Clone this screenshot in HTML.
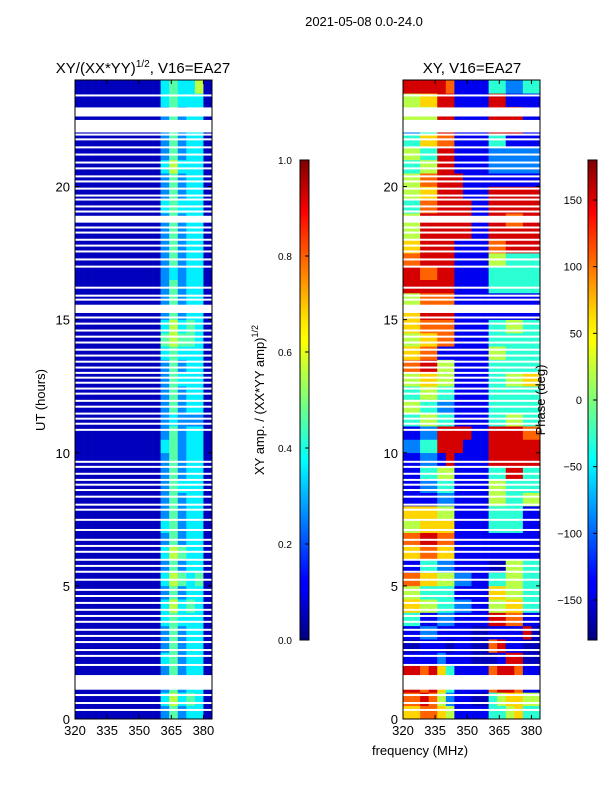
<!DOCTYPE html>
<html><head><meta charset="utf-8"><style>
body{margin:0;background:#fff;}
svg{display:block;font-family:"Liberation Sans",sans-serif;}
</style></head><body>
<svg id="fig" width="600" height="800" viewBox="0 0 600 800" xmlns="http://www.w3.org/2000/svg">
<defs>
<linearGradient id="jet" x1="0" y1="1" x2="0" y2="0">
<stop offset="0" stop-color="#00007f"/><stop offset="0.11" stop-color="#0000ff"/>
<stop offset="0.125" stop-color="#0000ff"/><stop offset="0.34" stop-color="#00dcff"/>
<stop offset="0.375" stop-color="#00ffff"/><stop offset="0.5" stop-color="#7dff7a"/>
<stop offset="0.625" stop-color="#ffff00"/><stop offset="0.66" stop-color="#ffea00"/>
<stop offset="0.875" stop-color="#ff1300"/><stop offset="0.89" stop-color="#ff0000"/>
<stop offset="1" stop-color="#7f0000"/></linearGradient>
</defs>
<text x="364" y="26" font-size="13" text-anchor="middle">2021-05-08 0.0-24.0</text>
<text x="143" y="73" font-size="15" text-anchor="middle">XY/(XX*YY)<tspan font-size="10" dy="-6">1/2</tspan><tspan dy="6">, V16=EA27</tspan></text>
<text x="472" y="73" font-size="15" text-anchor="middle">XY, V16=EA27</text>
<g id="left"></g>
<g id="right"></g>
<g id="axes"></g>
<text transform="translate(45,400) rotate(-90)" font-size="13" text-anchor="middle">UT (hours)</text>
<text x="420" y="755" font-size="13" text-anchor="middle">frequency (MHz)</text>
<rect x="300" y="160" width="9" height="480" fill="url(#jet)" stroke="#000" stroke-width="1"/>
<text transform="translate(264,400) rotate(-90)" font-size="13" text-anchor="middle">XY amp. / (XX*YY amp)<tspan font-size="9" dy="-6">1/2</tspan></text>
<rect x="588" y="160" width="9" height="480" fill="url(#jet)" stroke="#000" stroke-width="1"/>
<text transform="translate(545,400) rotate(-90)" font-size="13" text-anchor="middle">Phase (deg)</text>
<g id="cbt"></g>
</svg>
<script>
const freqStart = [320,324,328,332,336,340,344,348,352,356,360,364,368,372,376,380];
const freqStep = 4;
const rowHours = 0.5;
const ampRows = [
"1111111111353441","1111111111464541","1111111111353441","1111111111353441",
"1111111111453441","1111111111353441","1111111111353441","1111111111454441",
"1111111111464541","1111111111353441","1111111111465451","1111111111353441",
"1111111111465441","1111111111353441","1111111111453441","1111111111353441",
"1111111111353441","1111111111354441","1111111111353441","1111111111353441",
"1111111111453441","1111111111353441","1111111111343331","1111111111353441",
"1111111111353441","1111111111354441","1111111111353441","1111111111454441",
"1111111111565541","1111111111464541","1111111111353441","1111111111353441",
"1111111111353441","1111111111343441","1111111111353441","1111111111353441",
"1111111111353441","1111111111353441","1111111111454441","1111111111353441",
"1111111111353441","1111111111464441","1111111111353441","1111111111353441",
"1111111111353441","1111111111353441","1111111111454441","1111111111454461"];
const phaseLevels = [-180,-160,-140,-90,-30,20,60,100,150,180];
const phaseRows = [
"6677652222445644","7787532211456655","8878642222788722","8878642222788722",
"2222322211128811","1122212211782211","2233222211222281","4422332222887722",
"6655443322556644","5544442222665544","7766553322445544","2244332222115544",
"6677662222222222","7788772222222222","5566662222444422","6666552222444422",
"2222332222554455","2233442222554444","2244552222448844","2233282222888888",
"3344888222888888","2233888822888877","4455442222445544","5544332222444444",
"4455442222444444","5566552222445566","7788552222444444","6677222222554444",
"5566772222444444","6677772222445544","6688882222222222","5577772222222222",
"8888882222444444","8877882222444444","7788882222554444","6688882222778888",
"5588888822888888","5588888822887788","4477888822888888","5566888222888888",
"5577888222222222","4455882222333333","5544882222333333","4466772222442222",
"3344882222888822","5555882222888822","5566882222882222","8888872222443344"];
const flagBands = [[1.1,1.65],[15.25,15.56],[18.7,18.9],[22.03,22.5],[22.63,22.97]];
const thinLines = [23.42,21.95,21.77,21.47,21.2,20.9,20.68,20.38,20.19,19.92,19.66,19.51,19.25,19.06,18.68,18.46,18.27,18.0,17.78,17.56,17.26,16.99,16.2,15.9,15.75,15.08,14.85,14.59,14.36,14.14,13.87,13.65,13.42,13.2,13.0,12.82,12.63,12.41,12.22,11.95,11.73,11.47,11.28,11.09,10.86,9.66,9.47,9.21,8.98,8.8,8.6,8.35,8.05,7.86,7.48,7.1,6.73,6.5,6.28,5.98,5.75,5.53,5.23,4.85,4.62,4.36,4.1,3.87,3.65,3.35,3.12,2.89,2.59,2.37,2.03,0.9,0.6,0.34];
const xTicks = [320,335,350,365,380];
const yTicks = [0,5,10,15,20];
const ampTicks = ["0.0","0.2","0.4","0.6","0.8","1.0"];
const phaseTicks = [-150,-100,-50,0,50,100,150];

const NS="http://www.w3.org/2000/svg";
const fMin=320,fMax=384,hMin=0,hMax=24,plotTop=80,plotBot=719;
function yS(h){return plotBot-(h-hMin)/(hMax-hMin)*(plotBot-plotTop);}
function mkX(x0,x1){return f=>x0+(f-fMin)/(fMax-fMin)*(x1-x0);}
const panels=[{g:'left',x0:75,x1:212},{g:'right',x0:403,x1:540}];
function jet(v){v=Math.max(0,Math.min(1,v));
 const r=Math.min(4*v-1.5,-4*v+4.5),g=Math.min(4*v-0.5,-4*v+3.5),b=Math.min(4*v+0.5,-4*v+2.5);
 const c=x=>Math.round(255*Math.max(0,Math.min(1,x)));return `rgb(${c(r)},${c(g)},${c(b)})`;}
function el(tag,attrs,parent){const e=document.createElementNS(NS,tag);for(const k in attrs)e.setAttribute(k,attrs[k]);parent.appendChild(e);return e;}
panels.forEach((p,pi)=>{
 const g=document.getElementById(p.g);const xS=mkX(p.x0,p.x1);
 const rows=pi===0?ampRows:phaseRows;
 rows.forEach((row,i)=>{
  const h0=i*rowHours,h1=h0+rowHours;
  for(let j=0;j<freqStart.length;j++){
   const d=+row[j];
   let v=pi===0?(d-0.4)/10:(phaseLevels[d]+180)/360;
   const r=el('rect',{x:xS(freqStart[j]),y:yS(h1),width:xS(freqStart[j]+freqStep)-xS(freqStart[j])+0.3,height:yS(h0)-yS(h1)+0.3,fill:jet(v)},g);
   
   
  }
 });
 flagBands.forEach(b=>{const r=el('rect',{x:p.x0,y:yS(b[1]),width:p.x1-p.x0,height:yS(b[0])-yS(b[1]),fill:'#fff'},g);
  
  });
 thinLines.forEach(h=>{const r=el('rect',{x:p.x0,y:yS(h)-1,width:p.x1-p.x0,height:2,fill:'#fff'},g);
  
  });
 const ax=document.getElementById('axes');
 const fr=el('rect',{x:p.x0,y:plotTop,width:p.x1-p.x0,height:plotBot-plotTop,fill:'none',stroke:'#000','stroke-width':1},ax);
 
 
 xTicks.forEach(t=>{const x=xS(t);
  el('line',{x1:x,x2:x,y1:plotBot,y2:plotBot-4,stroke:'#000'},ax);el('line',{x1:x,x2:x,y1:plotTop,y2:plotTop+4,stroke:'#000'},ax);
  const tx=el('text',{x:x,y:plotBot+16,'font-size':13,'text-anchor':'middle'},ax);tx.textContent=t;
  
  });
 yTicks.forEach(t=>{const y=yS(t);
  el('line',{x1:p.x0,x2:p.x0+4,y1:y,y2:y,stroke:'#000'},ax);el('line',{x1:p.x1,x2:p.x1-4,y1:y,y2:y,stroke:'#000'},ax);
  const tx=el('text',{x:p.x0-5,y:y+5,'font-size':13,'text-anchor':'end'},ax);tx.textContent=t;
  
  });
});
const cb=document.getElementById('cbt');
ampTicks.forEach((t,i)=>{const y=640-i/(ampTicks.length-1)*480;
 el('line',{x1:305,x2:309,y1:y,y2:y,stroke:'#000'},cb);
 const tx=el('text',{x:278,y:y+4,'font-size':10,'text-anchor':'start'},cb);tx.textContent=t;
 
 });
phaseTicks.forEach(t=>{const y=640-(t+180)/360*480;
 el('line',{x1:593,x2:597,y1:y,y2:y,stroke:'#000'},cb);
 const tx=el('text',{x:582,y:y+4,'font-size':11,'text-anchor':'end'},cb);tx.textContent=t===0?'0':(t<0?'\u2212'+(-t):t);
 
 });
</script>
</body></html>
